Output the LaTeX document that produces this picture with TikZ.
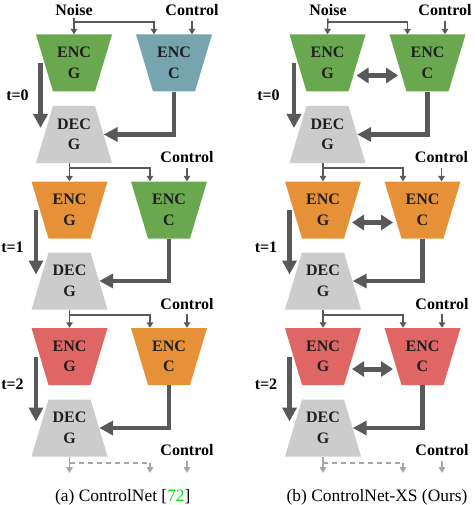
\documentclass[tikz,border=0pt]{standalone}
\usepackage{fontspec}
\setmainfont{Liberation Serif}
\usetikzlibrary{arrows.meta,calc}
\definecolor{cgreen}{HTML}{6AA84F}
\definecolor{cteal}{HTML}{76A5AF}
\definecolor{corange}{HTML}{E69138}
\definecolor{cred}{HTML}{E06666}
\definecolor{cgray}{HTML}{CCCCCC}
\definecolor{cdark}{HTML}{595959}
\definecolor{clight}{HTML}{A6A6A6}
\definecolor{citegreen}{RGB}{0,220,0}
\tikzset{
 lbl/.style={font=\bfseries\fontsize{16}{20}\selectfont, inner sep=0pt, anchor=base},
 blk/.style={minimum width=76pt, minimum height=57pt, inner sep=0pt, align=center, font=\bfseries\fontsize{16}{20.5}\selectfont, text=black!88},
 enc/.style={blk, path picture={\fill[#1] (path picture bounding box.north west) -- (path picture bounding box.north east) -- ([xshift=-17pt]path picture bounding box.south east) -- ([xshift=17pt]path picture bounding box.south west) -- cycle;}},
 dec/.style={blk, path picture={\fill[cgray] ([xshift=17pt]path picture bounding box.north west) -- ([xshift=-17pt]path picture bounding box.north east) -- (path picture bounding box.south east) -- (path picture bounding box.south west) -- cycle;}},
 thinarr/.style={draw=cdark, line width=1.4pt, -{Triangle[width=6.5pt,length=5.5pt]}},
 thickarr/.style={draw=cdark, line width=4.5pt, -{Triangle[width=14pt,length=14pt]}},
 dblarr/.style={draw=cdark, line width=5pt, {Triangle[width=15pt,length=12pt]}-{Triangle[width=15pt,length=12pt]}},
 fadeline/.style={draw=clight, line width=1.4pt, dash pattern=on 5pt off 4pt},
 fadearr/.style={draw=clight, line width=1.4pt, -{Triangle[width=6.5pt,length=6pt]}},
 captxt/.style={anchor=base, inner sep=0pt, font=\fontsize{17.4}{20}\selectfont},
}
\begin{document}
\begin{tikzpicture}[x=1pt,y=-1pt]
\useasboundingbox (0,0) rectangle (474,505);
\fill[white] (0,0) rectangle (474,505);
\coordinate (br1) at (0,22);
\coordinate (br2) at (0,168);
\coordinate (br3) at (0,315);
\coordinate (dsh) at (0,463);

% ---------------- left panel ----------------
\node[enc=cgreen] (egL1) at (74,63) {ENC\\G};
\node[enc=cteal] (ecL1) at (174,63) {ENC\\C};
\node[dec] (dgL1) at (74,134.5) {DEC\\G};
\node[enc=corange] (egL2) at (69.5,210) {ENC\\G};
\node[enc=cgreen] (ecL2) at (169,210) {ENC\\C};
\node[dec] (dgL2) at (69.5,281) {DEC\\G};
\node[enc=cred] (egL3) at (69.5,356.5) {ENC\\G};
\node[enc=corange] (ecL3) at (169,356.5) {ENC\\C};
\node[dec] (dgL3) at (69.5,428) {DEC\\G};

\node[lbl] (noiseL) at (74,16) {Noise};
\node[lbl] (ctL1) at (192,16) {Control};
\node[lbl] (ctL2) at (187,162.5) {Control};
\node[lbl] (ctL3) at (187,309) {Control};
\node[lbl] (ctL4) at (187,455) {Control};
\node[lbl] (tL0) at (17.5,100.5) {t=0};
\node[lbl] (tL1) at (12.5,252.5) {t=1};
\node[lbl] (tL2) at (12.5,389) {t=2};

\draw[thinarr, shorten <=2pt] (noiseL.south) -- (egL1.north);
\draw[thinarr] (egL1.north |- br1) -| ([xshift=-20pt]ecL1.north);
\draw[thinarr, shorten <=5pt] (ctL1.south) -- (ctL1.south |- ecL1.north);
\draw[thinarr] (egL2.north |- dgL1.south) -- (egL2.north);
\draw[thinarr] (egL2.north |- br2) -| ([xshift=-19pt]ecL2.north);
\draw[thinarr, shorten <=5pt] (ctL2.south) -- (ctL2.south |- ecL2.north);
\draw[thinarr] (egL3.north |- dgL2.south) -- (egL3.north);
\draw[thinarr] (egL3.north |- br3) -| ([xshift=-19pt]ecL3.north);
\draw[thinarr, shorten <=5pt] (ctL3.south) -- (ctL3.south |- ecL3.north);

\foreach \r in {1,2,3}{
 \draw[thickarr] ([xshift=-33.5pt]egL\r.center) -- ([xshift=-33.5pt,yshift=6.5pt]dgL\r.center);
 \draw[thickarr] (ecL\r.south) |- ([xshift=-8.5pt]dgL\r.east);
}
\draw[fadeline] (dgL3.south |- dsh) -- ([xshift=-19pt]ecL3.south |- dsh);
\draw[fadearr] (dgL3.south) -- ([yshift=-10pt]dgL3.south |- dsh);
\draw[fadearr] ([xshift=-19pt]ecL3.south |- dsh) -- ([xshift=-19pt,yshift=-10pt]ecL3.south |- dsh);
\draw[fadearr, shorten <=6pt] (ctL4.south) -- ([yshift=-10pt]ctL4.south |- dsh);

\node[captxt] (capL) at (122.8,501) {(a) ControlNet [\textcolor{citegreen}{72}]};

% ---------------- right panel ----------------
\node[enc=cgreen] (egR1) at (327.5,63) {ENC\\G};
\node[enc=cgreen] (ecR1) at (427.5,63) {ENC\\C};
\node[dec] (dgR1) at (327.5,134.5) {DEC\\G};
\node[enc=corange] (egR2) at (323,210) {ENC\\G};
\node[enc=corange] (ecR2) at (422.5,210) {ENC\\C};
\node[dec] (dgR2) at (323,281) {DEC\\G};
\node[enc=cred] (egR3) at (323,356.5) {ENC\\G};
\node[enc=cred] (ecR3) at (422.5,356.5) {ENC\\C};
\node[dec] (dgR3) at (323,428) {DEC\\G};

\node[lbl] (noiseR) at (328,16) {Noise};
\node[lbl] (ctR1) at (445,16) {Control};
\node[lbl] (ctR2) at (441.5,162.5) {Control};
\node[lbl] (ctR3) at (442,309) {Control};
\node[lbl] (ctR4) at (442,455) {Control};
\node[lbl] (tR0) at (268.5,100.5) {t=0};
\node[lbl] (tR1) at (266,252.5) {t=1};
\node[lbl] (tR2) at (266,389) {t=2};

\draw[thinarr, shorten <=2pt] (noiseR.south) -- (egR1.north);
\draw[thinarr] (egR1.north |- br1) -| ([xshift=-20pt]ecR1.north);
\draw[thinarr, shorten <=5pt] (ctR1.south) -- (ctR1.south |- ecR1.north);
\draw[thinarr] (egR2.north |- dgR1.south) -- (egR2.north);
\draw[thinarr] (egR2.north |- br2) -| ([xshift=-19.5pt]ecR2.north);
\draw[thinarr, shorten <=5pt] (ctR2.south) -- (ctR2.south |- ecR2.north);
\draw[thinarr] (egR3.north |- dgR2.south) -- (egR3.north);
\draw[thinarr] (egR3.north |- br3) -| ([xshift=-19.5pt]ecR3.north);
\draw[thinarr, shorten <=5pt] (ctR3.south) -- (ctR3.south |- ecR3.north);

\foreach \r in {1,2,3}{
 \draw[thickarr] ([xshift=-33.5pt]egR\r.center) -- ([xshift=-33.5pt,yshift=6.5pt]dgR\r.center);
 \draw[thickarr] (ecR\r.south) |- ([xshift=-8.5pt]dgR\r.east);
 \draw[dblarr] ([xshift=29pt,yshift=-12.5pt]egR\r.center) -- ([xshift=-29.5pt,yshift=-12.5pt]ecR\r.center);
}
\draw[fadeline] (dgR3.south |- dsh) -- ([xshift=-19.5pt]ecR3.south |- dsh);
\draw[fadearr] (dgR3.south) -- ([yshift=-10pt]dgR3.south |- dsh);
\draw[fadearr] ([xshift=-19.5pt]ecR3.south |- dsh) -- ([xshift=-19.5pt,yshift=-10pt]ecR3.south |- dsh);
\draw[fadearr, shorten <=6pt] (ctR4.south) -- ([yshift=-10pt]ctR4.south |- dsh);

\node[captxt] (capR) at (377,501) {(b) ControlNet-XS (Ours)};
\end{tikzpicture}
\end{document}
